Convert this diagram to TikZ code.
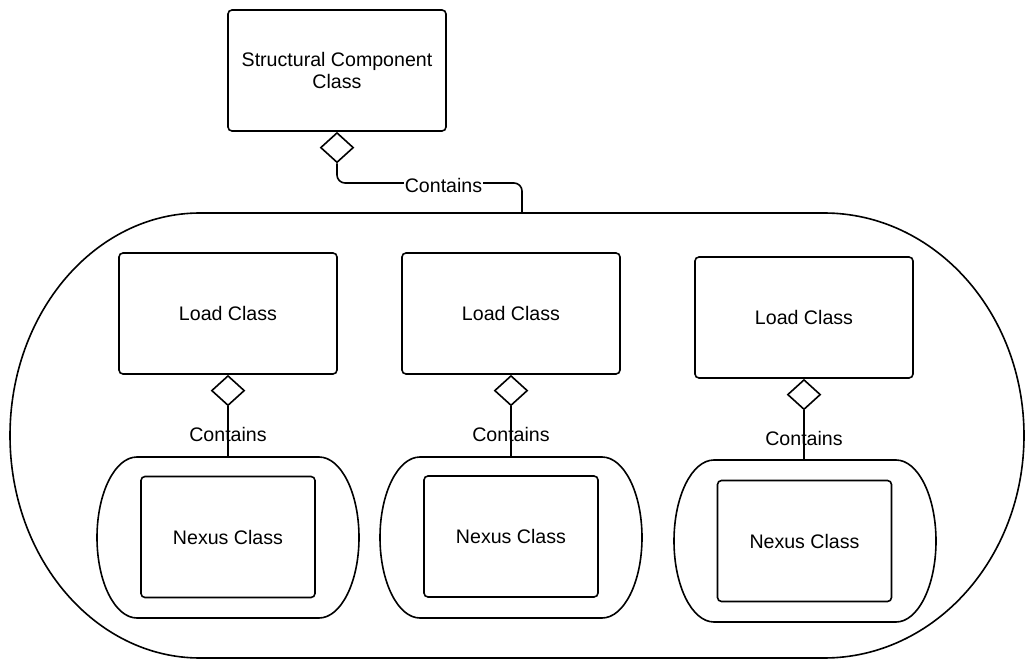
\documentclass[tikz,border=0pt]{standalone}
\usepackage{fontspec}
\setmainfont{Liberation Sans}
\usetikzlibrary{shapes.geometric}
\begin{document}
\begin{tikzpicture}[x=1pt,y=-1pt,line width=1.6pt,
  txt/.style={font=\fontsize{19.6}{22}\selectfont},
  box/.style={draw,rounded corners=4pt,minimum width=218pt,minimum height=121pt,inner sep=0pt,align=center,txt},
  nbox/.style={draw,rounded corners=4pt,minimum width=174pt,minimum height=121pt,inner sep=0pt,txt},
  agg/.style={draw,diamond,fill=white,minimum width=33pt,minimum height=30pt,inner sep=0pt},
  lbl/.style={txt,inner sep=1pt}]
\useasboundingbox (0,0) rectangle (1026,660);

% outer container
\draw (200,213) coordinate (otl) -- (824,213) arc (-90:90:200 and 222.5) -- (200,658) arc (90:270:190 and 222.5) -- cycle;
\coordinate (ctop) at (522,213);

% top class
\node[box] (sc) at (337,70.5) {Structural Component\\Class};
\node[agg,anchor=north] (d0) at (sc.south) {};
\draw[rounded corners=8pt] (d0.south) |- (443,183) -| (ctop);
\node[lbl,fill=white] (c0) at (443.5,185) {Contains};

% nexus containers
\draw (137,457) coordinate (s1) -- (319,457) arc (-90:90:40 and 80.5) -- (137,618) arc (90:270:40 and 80.5) -- cycle;
\draw (420,457) coordinate (s2) -- (602,457) arc (-90:90:40 and 80.5) -- (420,618) arc (90:270:40 and 80.5) -- cycle;
\draw (714,460) coordinate (s3) -- (896,460) arc (-90:90:40 and 81) -- (714,622) arc (90:270:40 and 81) -- cycle;
\coordinate (t1) at (228,457);
\coordinate (t2) at (511,457);
\coordinate (t3) at (804,460);

% load classes
\node[box] (l1) at (228,313.5) {Load Class};
\node[box] (l2) at (511,313.5) {Load Class};
\node[box] (l3) at (804,317.5) {Load Class};

\node[agg,anchor=north] (d1) at (l1.south) {};
\node[agg,anchor=north] (d2) at (l2.south) {};
\node[agg,anchor=north] (d3) at (l3.south) {};

\draw (d1.south) -- (t1);
\draw (d2.south) -- (t2);
\draw (d3.south) -- (t3);

\node[lbl] (c1) at (228,434) {Contains};
\node[lbl] (c2) at (511,434) {Contains};
\node[lbl] (c3) at (804,438) {Contains};

% nexus classes
\node[nbox] (n1) at (228,537) {Nexus Class};
\node[nbox] (n2) at (511,536.5) {Nexus Class};
\node[nbox] (n3) at (804.5,541) {Nexus Class};
\end{tikzpicture}
\end{document}
